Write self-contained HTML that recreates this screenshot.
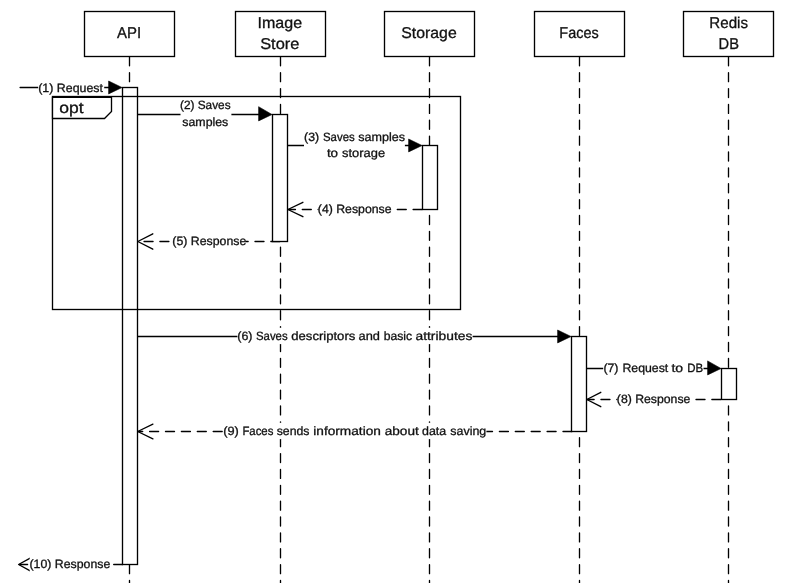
<!DOCTYPE html>
<html><head><meta charset="utf-8"><title>Sequence diagram</title>
<style>
html,body{margin:0;padding:0;background:#fff;}
body{width:796px;height:583px;overflow:hidden;}
svg{display:block;will-change:transform;filter:grayscale(1);}
.s{stroke:#000;stroke-width:1.33;stroke-linecap:round;stroke-linejoin:miter;}
.n{fill:none;}
.wf{fill:#fff;}
.w{fill:#fff;stroke:none;}
.f{fill:#000;stroke:#000;stroke-width:0.6;stroke-linejoin:round;}
.d{stroke:#000;stroke-width:1.33;stroke-dasharray:9 6.88;stroke-linecap:round;fill:none;}
text{font-family:"Liberation Sans", sans-serif;fill:#111;stroke:#111;stroke-width:0.3px;text-rendering:geometricPrecision;}
.h{font-size:15.6px;}
.m{font-size:12.0px;}
</style></head><body>
<svg width="796" height="583" viewBox="0 0 796 583">
<rect class="w" x="0" y="0" width="796" height="583"/>
<line class="d" style="stroke-dasharray:9 6.87" x1="129.5" y1="56.8" x2="129.5" y2="588"/>
<line class="d" style="stroke-dasharray:9 6.87" x1="280.5" y1="56.8" x2="280.5" y2="588"/>
<line class="d" style="stroke-dasharray:9 6.87" x1="429.5" y1="56.8" x2="429.5" y2="588"/>
<line class="d" style="stroke-dasharray:9 6.87" x1="579.5" y1="56.8" x2="579.5" y2="588"/>
<line class="d" style="stroke-dasharray:9 6.87" x1="728.5" y1="56.8" x2="728.5" y2="588"/>
<line class="d" style="stroke-dasharray:9 6.85" x1="279.85" y1="241.5" x2="138.5" y2="241.5"/>
<line class="d" style="stroke-dasharray:9 6.90" x1="572.0" y1="431.5" x2="138.5" y2="431.5"/>
<line class="d" style="stroke-dasharray:9 6.83" x1="422.1" y1="209.5" x2="288.6" y2="209.5"/>
<line class="d" style="stroke-dasharray:9 6.84" x1="720.85" y1="399.5" x2="587.5" y2="399.5"/>
<line class="d" style="stroke-dasharray:9 6.85" x1="122.7" y1="564.5" x2="19.5" y2="564.5"/>
<line class="s" x1="20.1" y1="87.5" x2="110" y2="87.5"/>
<line class="s" x1="137.5" y1="114.5" x2="260" y2="114.5"/>
<line class="s" x1="287.7" y1="145.5" x2="410" y2="145.5"/>
<line class="s" x1="137.5" y1="336.5" x2="559" y2="336.5"/>
<line class="s" x1="586.5" y1="368.5" x2="709" y2="368.5"/>
<rect class="s wf" x="122.5" y="87.5" width="15.0" height="477.0"/>
<rect class="s wf" x="272.5" y="114.5" width="15.0" height="127.0"/>
<rect class="s wf" x="422.5" y="145.5" width="15.0" height="64.0"/>
<rect class="s wf" x="571.5" y="336.5" width="15.0" height="95.0"/>
<rect class="s wf" x="721.5" y="368.5" width="15.0" height="31.0"/>
<rect class="s n" x="52.5" y="96.5" width="408" height="213"/>
<path class="f" d="M122.0 87.5L108.6 81.0L108.6 93.9Z"/>
<path class="f" d="M272.0 114.5L258.6 106.7L258.6 120.9Z"/>
<path class="f" d="M422.0 145.5L408.6 139.0L408.6 151.9Z"/>
<path class="f" d="M571.0 336.5L557.6 330.0L557.6 342.9Z"/>
<path class="f" d="M721.0 368.5L707.6 360.9L707.6 374.9Z"/>
<path class="s n" style="stroke-linejoin:round" d="M302.9 202.3L287.9 209.5L302.9 216.7"/>
<path class="s n" style="stroke-linejoin:round" d="M152.8 233.8L137.8 241.5L152.8 249.2"/>
<path class="s n" style="stroke-linejoin:round" d="M600.8 392.3L586.8 399.5L600.8 406.7"/>
<path class="s n" style="stroke-linejoin:round" d="M152.9 424.1L137.7 431.5L152.9 438.9"/>
<path class="s n" style="stroke-linejoin:round" d="M30.2 558.2L18.6 564.5L30.2 570.8"/>
<rect class="s wf" x="84.5" y="11.5" width="90.0" height="45.0"/>
<rect class="s wf" x="235.5" y="11.5" width="90.0" height="45.0"/>
<rect class="s wf" x="384.5" y="11.5" width="90.0" height="45.0"/>
<rect class="s wf" x="534.5" y="11.5" width="90.0" height="45.0"/>
<rect class="s wf" x="683.5" y="11.5" width="90.0" height="45.0"/>
<path class="s wf" d="M52.5 97.3H111.5V111.5L104.5 118.5H52.5Z"/>
<text class="h" x="59.3" y="112.9" textLength="24.3" lengthAdjust="spacingAndGlyphs">opt</text>
<text class="h" x="117.1" y="38.0" textLength="24.1" lengthAdjust="spacingAndGlyphs">API</text>
<text class="h" x="257.5" y="27.6" textLength="44.6" lengthAdjust="spacingAndGlyphs">Image</text>
<text class="h" x="260.2" y="48.6" textLength="39.2" lengthAdjust="spacingAndGlyphs">Store</text>
<text class="h" x="401.3" y="38.0" textLength="55.4" lengthAdjust="spacingAndGlyphs">Storage</text>
<text class="h" x="559.3" y="38.0" textLength="39.4" lengthAdjust="spacingAndGlyphs">Faces</text>
<text class="h" x="709.3" y="27.6" textLength="38.7" lengthAdjust="spacingAndGlyphs">Redis</text>
<text class="h" x="718.6" y="48.6" textLength="20.4" lengthAdjust="spacingAndGlyphs">DB</text>
<rect class="w" x="38.2" y="78.8" width="66.0" height="16.3"/>
<text class="m" x="38.2" y="91.6" textLength="64.8" lengthAdjust="spacingAndGlyphs">(1) Request</text>
<rect class="w" x="180.5" y="98.0" width="50.9" height="32.6"/>
<text class="m" x="180.0" y="108.8" textLength="50.6" lengthAdjust="spacingAndGlyphs">(2) Saves</text>
<text class="m" x="182.3" y="125.5" textLength="46.0" lengthAdjust="spacingAndGlyphs">samples</text>
<rect class="w" x="304.0" y="129.0" width="100.9" height="32.6"/>
<text class="m" y="140.6"><tspan x="304.1" textLength="15.1" lengthAdjust="spacingAndGlyphs">(3)</tspan> <tspan x="323.0" textLength="31.7" lengthAdjust="spacingAndGlyphs">Saves</tspan> <tspan x="358.2" textLength="46.8" lengthAdjust="spacingAndGlyphs">samples</tspan></text>
<text class="m" y="157.3"><tspan x="326.9" textLength="11.2" lengthAdjust="spacingAndGlyphs">to</tspan> <tspan x="342.1" textLength="43.0" lengthAdjust="spacingAndGlyphs">storage</tspan></text>
<rect class="w" x="318.5" y="200.8" width="73.6" height="16.3"/>
<text class="m" x="317.8" y="212.5" textLength="73.8" lengthAdjust="spacingAndGlyphs">(4) Response</text>
<rect class="w" x="172.5" y="232.8" width="73.1" height="16.3"/>
<text class="m" x="172.3" y="244.7" textLength="74.1" lengthAdjust="spacingAndGlyphs">(5) Response</text>
<rect class="w" x="237.4" y="327.8" width="235.2" height="16.3"/>
<text class="m" y="339.6"><tspan x="237.3" textLength="15.2" lengthAdjust="spacingAndGlyphs">(6)</tspan> <tspan x="256.0" textLength="31.6" lengthAdjust="spacingAndGlyphs">Saves</tspan> <tspan x="291.3" textLength="64.0" lengthAdjust="spacingAndGlyphs">descriptors</tspan> <tspan x="358.5" textLength="21.4" lengthAdjust="spacingAndGlyphs">and</tspan> <tspan x="383.7" textLength="28.4" lengthAdjust="spacingAndGlyphs">basic</tspan> <tspan x="415.5" textLength="56.8" lengthAdjust="spacingAndGlyphs">attributes</tspan></text>
<rect class="w" x="603.2" y="359.8" width="100.3" height="16.3"/>
<text class="m" y="371.7"><tspan x="603.4" textLength="15.1" lengthAdjust="spacingAndGlyphs">(7)</tspan> <tspan x="622.4" textLength="45.9" lengthAdjust="spacingAndGlyphs">Request</tspan> <tspan x="671.4" textLength="11.7" lengthAdjust="spacingAndGlyphs">to</tspan> <tspan x="687.3" textLength="15.9" lengthAdjust="spacingAndGlyphs">DB</tspan></text>
<rect class="w" x="617.5" y="390.8" width="73.4" height="16.3"/>
<text class="m" x="616.8" y="402.6" textLength="73.6" lengthAdjust="spacingAndGlyphs">(8) Response</text>
<rect class="w" x="223.2" y="422.8" width="263.2" height="16.3"/>
<text class="m" y="434.8"><tspan x="223.2" textLength="15.6" lengthAdjust="spacingAndGlyphs">(9)</tspan> <tspan x="242.4" textLength="31.0" lengthAdjust="spacingAndGlyphs">Faces</tspan> <tspan x="276.7" textLength="32.8" lengthAdjust="spacingAndGlyphs">sends</tspan> <tspan x="313.3" textLength="67.6" lengthAdjust="spacingAndGlyphs">information</tspan> <tspan x="384.7" textLength="34.1" lengthAdjust="spacingAndGlyphs">about</tspan> <tspan x="422.0" textLength="24.2" lengthAdjust="spacingAndGlyphs">data</tspan> <tspan x="450.3" textLength="36.0" lengthAdjust="spacingAndGlyphs">saving</tspan></text>
<rect class="w" x="29.7" y="555.8" width="80.4" height="16.3"/>
<text class="m" x="29.5" y="567.8" textLength="80.8" lengthAdjust="spacingAndGlyphs">(10) Response</text>
</svg>
</body></html>
